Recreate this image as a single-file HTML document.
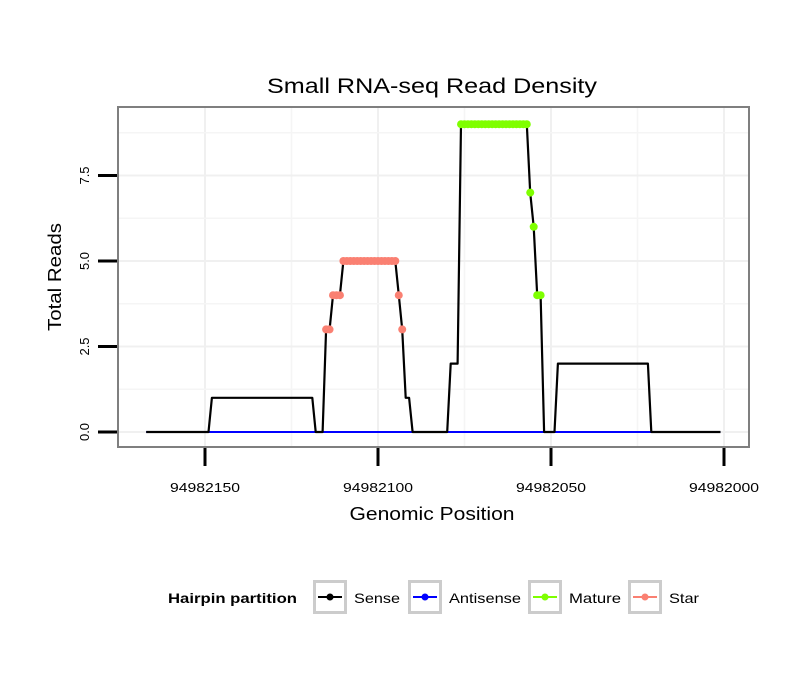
<!DOCTYPE html>
<html><head><meta charset="utf-8"><style>
body{margin:0;background:#fff;font-family:"Liberation Sans",sans-serif}
svg text{font-family:"Liberation Sans",sans-serif}
</style></head><body>
<svg id="c" width="810" height="690" xmlns="http://www.w3.org/2000/svg">
<rect width="810" height="690" fill="#fff"/>
<text x="432" y="93" font-size="21" textLength="330" lengthAdjust="spacingAndGlyphs" text-anchor="middle">Small RNA-seq Read Density</text>
<g id="grid"></g>
<g id="marks"></g>
<rect x="118" y="107" width="631" height="340" fill="none" stroke="#7f7f7f" stroke-width="2"/>
<g id="axes"></g>
<text x="432" y="520" font-size="18" textLength="165" lengthAdjust="spacingAndGlyphs" text-anchor="middle">Genomic Position</text>
<text transform="translate(61,277) rotate(-90)" font-size="18" textLength="108" lengthAdjust="spacingAndGlyphs" text-anchor="middle">Total Reads</text>
<g>
<text x="168" y="603" font-size="14" font-weight="bold" textLength="129" lengthAdjust="spacingAndGlyphs">Hairpin partition</text>
<g id="legend"></g>
</g>
</svg>
<script>
const startPos = 94982167;
const senseValues = [0,0,0,0,0,0,0,0,0,0,0,0,0,0,0,0,0,0,0,
1,1,1,1,1,1,1,1,1,1,1,1,1,1,1,1,1,1,1,1,1,1,1,1,1,1,1,1,1,1,
0,0,0,
3,3,4,4,4,5,5,5,5,5,5,5,5,5,5,5,5,5,5,5,5,4,3,1,1,
0,0,0,0,0,0,0,0,0,0,0,
2,2,2,
9,9,9,9,9,9,9,9,9,9,9,9,9,9,9,9,9,9,9,9,7,6,4,4,
0,0,0,0,
2,2,2,2,2,2,2,2,2,2,2,2,2,2,2,2,2,2,2,2,2,2,2,2,2,2,2,
0,0,0,0,0,0,0,0,0,0,0,0,0,0,0,0,0,0,0,0,0];
const starStart = 94982115;
const starValues = [3,3,4,4,4,5,5,5,5,5,5,5,5,5,5,5,5,5,5,5,5,4,3];
const matureStart = 94982076;
const matureValues = [9,9,9,9,9,9,9,9,9,9,9,9,9,9,9,9,9,9,9,9,7,6,4,4];
const xTicks = [94982150,94982100,94982050,94982000];
const xTickLabels = ["94982150","94982100","94982050","94982000"];
const yTicks = [0,2.5,5,7.5];
const yTickLabels = ["0.0","2.5","5.0","7.5"];
const legendLabels = ["Sense","Antisense","Mature","Star"];
const legendWidths = [46,72,52,30];
const legendColors = ["#000000","#0000ff","#7fff00","#fa8072"];

const NS="http://www.w3.org/2000/svg";
function X(p){return 205+(94982150-p)*3.46;}
function Y(v){return 432-v*34.2;}
function mk(tag,attrs,parent){const e=document.createElementNS(NS,tag);for(const k in attrs)e.setAttribute(k,attrs[k]);parent.appendChild(e);return e;}
const grid=document.getElementById('grid'),marks=document.getElementById('marks'),axes=document.getElementById('axes');
for(let i=0;i<xTicks.length;i++){
  const l=mk('line',{x1:X(xTicks[i]),x2:X(xTicks[i]),y1:108,y2:446,stroke:'#f0f0f0','stroke-width':2},grid);
  
  
  if(i<xTicks.length-1){const m=(xTicks[i]+xTicks[i+1])/2;
    const l2=mk('line',{x1:X(m),x2:X(m),y1:108,y2:446,stroke:'#f5f5f5','stroke-width':1.5},grid);
    
    }
}
for(let i=0;i<yTicks.length;i++){
  const l=mk('line',{x1:119,x2:748,y1:Y(yTicks[i]),y2:Y(yTicks[i]),stroke:'#f0f0f0','stroke-width':2},grid);
  
  
  const m=yTicks[i]+1.25;
  const l2=mk('line',{x1:119,x2:748,y1:Y(m),y2:Y(m),stroke:'#f5f5f5','stroke-width':1.5},grid);
  
  
}
const first=startPos,last=startPos-senseValues.length+1;
const anti=mk('line',{x1:X(first),x2:X(last),y1:Y(0),y2:Y(0),stroke:'#0000ff','stroke-width':2},marks);


const pts=senseValues.map((v,i)=>X(startPos-i).toFixed(1)+','+Y(v).toFixed(1)).join(' ');
const sense=mk('polyline',{points:pts,fill:'none',stroke:'#000','stroke-width':2.2,'stroke-linejoin':'round'},marks);


starValues.forEach((v,i)=>{const c=mk('circle',{cx:X(starStart-i),cy:Y(v),r:4,fill:'#fa8072'},marks);
  
  });
matureValues.forEach((v,i)=>{const c=mk('circle',{cx:X(matureStart-i),cy:Y(v),r:4,fill:'#7fff00'},marks);
  
  });
xTicks.forEach((t,i)=>{
  const l=mk('line',{x1:X(t),x2:X(t),y1:448,y2:466,stroke:'#000','stroke-width':3},axes);
  
  
  const tx=mk('text',{x:X(t),y:492,'font-size':13,'text-anchor':'middle',textLength:70,lengthAdjust:'spacingAndGlyphs'},axes);tx.textContent=xTickLabels[i];
  
  
});
yTicks.forEach((t,i)=>{
  const l=mk('line',{x1:98,x2:117,y1:Y(t),y2:Y(t),stroke:'#000','stroke-width':3},axes);
  
  
  const tx=mk('text',{transform:`translate(89,${Y(t)}) rotate(-90)`,'font-size':13,'text-anchor':'middle'},axes);tx.textContent=yTickLabels[i];
  
  
});
const lg=document.getElementById('legend');
const keyX=[313,408,528,628];
legendLabels.forEach((lab,i)=>{
  const x=keyX[i];
  const g=mk('g',{},lg);
  
  
  mk('rect',{x:x+1.5,y:581.5,width:31,height:31,fill:'#fff',stroke:'#cccccc','stroke-width':3},g);
  mk('line',{x1:x+5,x2:x+29,y1:597,y2:597,stroke:legendColors[i],'stroke-width':2},g);
  mk('circle',{cx:x+17,cy:597,r:3.5,fill:legendColors[i]},g);
  const t=mk('text',{x:x+41,y:603,'font-size':14,textLength:legendWidths[i],lengthAdjust:'spacingAndGlyphs'},g);t.textContent=lab;
});
</script>
</body></html>
